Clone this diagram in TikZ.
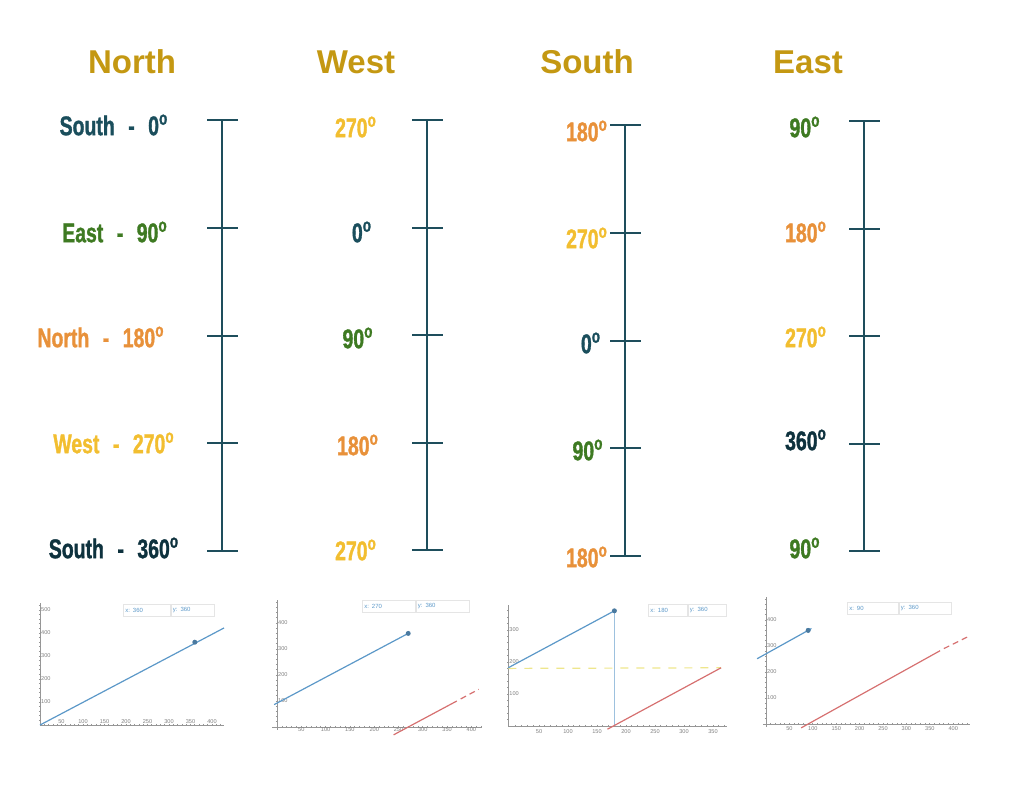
\documentclass[tikz,border=0pt]{standalone}
\usepackage{fontspec}
\setmainfont{Liberation Sans}
\newfontfamily\condfont[FakeStretch=0.72,FakeBold=1.2,UprightFont={* Bold}]{Liberation Sans}
\usetikzlibrary{arrows.meta,positioning}

\definecolor{headgold}{RGB}{196,152,18}
\definecolor{dirteal}{RGB}{26,78,92}
\definecolor{dirdark}{RGB}{14,50,62}
\definecolor{dirgreen}{RGB}{62,122,34}
\definecolor{dirorange}{RGB}{232,145,58}
\definecolor{diryellow}{RGB}{242,190,48}
\definecolor{scaleteal}{RGB}{30,78,92}
\definecolor{plotblue}{RGB}{92,152,200}
\definecolor{plotred}{RGB}{214,112,112}
\definecolor{plotyellow}{RGB}{238,230,140}
\definecolor{axisgray}{RGB}{150,150,150}

\begin{document}
\begin{tikzpicture}[
    x=0.5pt, y=-0.5pt, % pixel grid of the sheet
    >=Latex,
    % styles
    heading/.style={font=\fontsize{16.5}{18}\selectfont\bfseries, text=headgold},
    deglabel/.style={font=\condfont\fontsize{13.5}{14}\selectfont, inner sep=0pt},
    scale line/.style={draw=scaleteal, line width=1pt},
    axis line/.style={draw=axisgray, line width=0.35pt},
    tick lab/.style={font=\fontsize{2.8}{3}\selectfont, text=gray, inner sep=0.4pt},
    readout/.style={
        draw=gray!20,
        line width=0.3pt,
        font=\fontsize{3}{3.2}\selectfont,
        text=plotblue,
        minimum height=6pt,
        inner sep=1pt,
        anchor=west,
        align=left,
        text width=#1
    },
    dot/.style={circle, fill=plotblue!80!black, inner sep=0pt, minimum size=2.5pt},
    blue plot/.style={draw=plotblue, line width=0.6pt},
    red plot/.style={draw=plotred, line width=0.6pt}
]
    \useasboundingbox (0,0) rectangle (1033,799);

    % --- 1. Headings ---
    \node[heading] (hd-north) at (132,62) {North};
    \node[heading] (hd-west)  at (356,62) {West};
    \node[heading] (hd-south) at (587,62) {South};
    \node[heading] (hd-east)  at (808,62) {East};

    % --- 2. Scales ---
    \foreach \x/\top/\bot in {222/120/551, 427/120/550, 625/125/556, 864/121/551}{
        \draw[scale line] (\x,\top) -- (\x,\bot);
        \foreach \k in {0,...,4}
            \draw[scale line] ({\x-15},{\top+\k*(\bot-\top)/4}) -- ++(31,0);
    }

    % --- 3. Degree labels ---
    % North
    \foreach \x/\y/\txt/\col [count=\i] in {
        114/125/South\enspace-\enspace0/dirteal,
        115/232/East\enspace-\enspace90/dirgreen,
        101/337/North\enspace-\enspace180/dirorange,
        114/443/West\enspace-\enspace270/diryellow,
        114/548/South\enspace-\enspace360/dirdark}
        \node[deglabel, text=\col] (n\i) at (\x,\y) {\txt\textsuperscript{o}};
    % West
    \foreach \x/\y/\txt/\col [count=\i] in {
        356/127/270/diryellow, 362/232/0/dirteal, 358/338/90/dirgreen,
        358/445/180/dirorange, 356/550/270/diryellow}
        \node[deglabel, text=\col] (w\i) at (\x,\y) {\txt\textsuperscript{o}};
    % South
    \foreach \x/\y/\txt/\col [count=\i] in {
        587/131/180/dirorange, 587/238/270/diryellow, 591/343/0/dirteal,
        588/450/90/dirgreen, 587/557/180/dirorange}
        \node[deglabel, text=\col] (s\i) at (\x,\y) {\txt\textsuperscript{o}};
    % East
    \foreach \x/\y/\txt/\col [count=\i] in {
        805/127/90/dirgreen, 806/232/180/dirorange, 806/337/270/diryellow,
        806/440/360/dirdark, 805/548/90/dirgreen}
        \node[deglabel, text=\col] (e\i) at (\x,\y) {\txt\textsuperscript{o}};

    % --- 4. Plots ---
    % plot 1
    \begin{scope}[shift={(40,725)}, x=0.215pt, y=0.115pt]
        \draw[axis line] (0,0) -- (428,0);
        \draw[axis line] (0,0) -- (0,530);
        \foreach \t in {10,20,...,420}
            \draw[axis line] (\t,0) ++(0pt,0.6pt) -- ++(0pt,-1.2pt);
        \foreach \t in {20,40,...,520}
            \draw[axis line] (0,\t) ++(-0.6pt,0pt) -- ++(1.2pt,0pt);
        \foreach \t in {50,100,...,400}
            \node[tick lab, anchor=south] at (\t,0) {\t};
        \foreach \t in {100,200,...,500}
            \node[tick lab, anchor=west] at (0,\t) {\t};
        \draw[blue plot] (0,0) -- (428,422);
        \node[dot] (p1) at (360,360) {};
    \end{scope}
    \node[readout=21.5pt] (r1x) at (123,610) {x: 360};
    \node[readout=19.5pt, right=0pt of r1x] (r1y) {y: 360};

    % plot 2
    \begin{scope}[shift={(277,727)}, x=0.243pt, y=0.13pt]
        \draw[axis line] (-10,0) -- (422,0);
        \draw[axis line] (0,-10) -- (0,488);
        \foreach \t in {10,20,...,420}
            \draw[axis line] (\t,0) ++(0pt,0.6pt) -- ++(0pt,-1.2pt);
        \foreach \t in {20,40,...,480}
            \draw[axis line] (0,\t) ++(-0.6pt,0pt) -- ++(1.2pt,0pt);
        \foreach \t in {50,100,...,400}
            \node[tick lab, anchor=north] at (\t,4) {\t};
        \foreach \t in {100,200,...,400}
            \node[tick lab, anchor=west] at (0,\t) {\t};
        \draw[blue plot] (-6,86) -- (270,360);
        \node[dot] (p2) at (270,360) {};
        \draw[red plot] (240,-30) -- (370,100);
        \draw[red plot, dash pattern=on 3pt off 2pt] (378,108) -- (415,145);
    \end{scope}
    \node[readout=24.5pt] (r2x) at (362,606) {x: 270};
    \node[readout=24.5pt, right=0pt of r2x] (r2y) {y: 360};

    % plot 3
    \begin{scope}[shift={(510,726)}, x=0.29pt, y=0.16pt]
        \draw[axis line] (-3,0) -- (374,0);
        \draw[axis line] (-3,0) -- (-3,378);
        \foreach \t in {10,20,...,370}
            \draw[axis line] (\t,0) ++(0pt,0.6pt) -- ++(0pt,-1.2pt);
        \foreach \t in {20,40,...,360}
            \draw[axis line] (-3,\t) ++(-0.6pt,0pt) -- ++(1.2pt,0pt);
        \foreach \t in {50,100,...,350}
            \node[tick lab, anchor=north] at (\t,-8) {\t};
        \foreach \t in {100,200,300}
            \node[tick lab, anchor=west] at (-3,\t) {\t};
        \draw[plotyellow, line width=0.6pt, dash pattern=on 4pt off 4pt] (-3,180) -- (364,182);
        \draw[plotblue!60, line width=0.6pt] (180,0) -- (180,360);
        \draw[blue plot] (-3,182) -- (180,360);
        \node[dot] (p3) at (180,360) {};
        \draw[red plot] (168,-10) -- (364,182);
    \end{scope}
    \node[readout=17.5pt] (r3x) at (648,610) {x: 180};
    \node[readout=17pt, right=0pt of r3x] (r3y) {y: 360};

    % plot 4
    \begin{scope}[shift={(766,724)}, x=0.234pt, y=0.13pt]
        \draw[axis line] (-6,0) -- (436,0);
        \draw[axis line] (0,-10) -- (0,488);
        \foreach \t in {10,20,...,430}
            \draw[axis line] (\t,0) ++(0pt,0.6pt) -- ++(0pt,-1.2pt);
        \foreach \t in {20,40,...,480}
            \draw[axis line] (0,\t) ++(-0.6pt,0pt) -- ++(1.2pt,0pt);
        \foreach \t in {50,100,...,400}
            \node[tick lab, anchor=north] at (\t,-4) {\t};
        \foreach \t in {100,200,...,400}
            \node[tick lab, anchor=west] at (0,\t) {\t};
        \draw[blue plot, -{Stealth[length=2.5pt,width=2.5pt]}] (-19,251) -- (98,368);
        \node[dot] (p4) at (90,360) {};
        \draw[red plot] (75,-15) -- (372,282);
        \draw[red plot, dash pattern=on 3pt off 2pt] (380,290) -- (434,338);
    \end{scope}
    \node[readout=23.5pt] (r4x) at (847,608) {x: 90};
    \node[readout=24pt, right=0pt of r4x] (r4y) {y: 360};

\end{tikzpicture}
\end{document}
